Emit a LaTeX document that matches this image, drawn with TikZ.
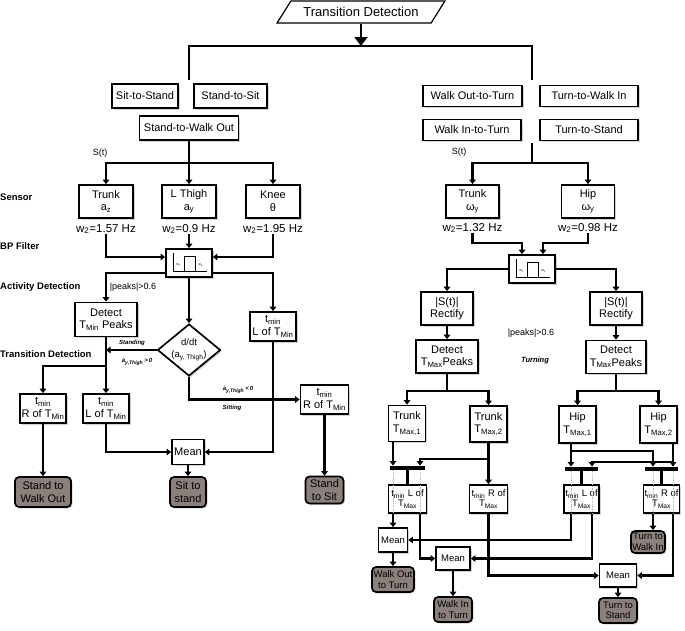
\documentclass[tikz,border=0pt]{standalone}
\usepackage{fontspec}
\setmainfont{Liberation Sans}
\usetikzlibrary{arrows.meta,positioning,calc,shapes.geometric,shadows}
\definecolor{endgray}{RGB}{140,128,124}
\definecolor{dotgray}{RGB}{185,185,185}

\begin{document}
\begin{tikzpicture}[x=1pt, y=-1pt,
    box/.style={draw, line width=1.7pt, fill=white, inner sep=1pt, align=center,
      font=\fontsize{11}{12.5}\selectfont,
      drop shadow={shadow xshift=1.5pt, shadow yshift=-1.5pt, opacity=.35}},
    sm/.style={font=\fontsize{9.5}{10.5}\selectfont},
    sz/.style 2 args={minimum width=#1pt, minimum height=#2pt},
    endbox/.style={box, fill=endgray, rounded corners=4pt},
    hdr/.style={trapezium, trapezium left angle=45, trapezium right angle=135,
      trapezium stretches=true, draw, line width=1.2pt, fill=white, inner sep=1pt,
      minimum width=168pt, minimum height=22pt, font=\fontsize{13}{14}\selectfont},
    dec/.style={diamond, draw, line width=1.7pt, fill=white, aspect=1.2, inner sep=0pt,
      minimum width=63pt, minimum height=52pt, align=center,
      font=\fontsize{9.5}{12}\selectfont,
      drop shadow={shadow xshift=1.5pt, shadow yshift=-1.5pt, opacity=.35}},
    bar/.style={fill=black, inner sep=0pt, minimum height=4.5pt},
    wire/.style={line width=2.6pt},
    arr/.style={wire, -{Triangle[length=4.5pt,width=6.5pt]}},
    bigarr/.style={line width=2.8pt, -{Triangle[length=9pt,width=13pt]}},
    dots/.style={dotgray, line width=.8pt, densely dotted},
    sect/.style={anchor=west, inner sep=0pt, font=\bfseries\fontsize{9.5}{10}\selectfont},
    lab/.style={inner sep=0pt, font=\fontsize{9}{10}\selectfont},
    wlab/.style={inner sep=0pt, font=\fontsize{11.5}{12}\selectfont},
    tiny/.style={inner sep=0pt, font=\bfseries\itshape\fontsize{6}{7}\selectfont},
    bpicon/.pic={
      \draw[line width=.8pt] (-16,-10) -- (-16,8) -- (18,8);
      \draw[line width=.8pt] (-5,8) -- (-5,-7) -- (6,-7) -- (6,8);
      \node[inner sep=0pt, font=\fontsize{3.5}{4}\selectfont] (-w1) at (-10.5,2) {w\textsubscript{1}};
      \node[inner sep=0pt, font=\fontsize{3.5}{4}\selectfont] (-w2) at (11.5,2) {w\textsubscript{2}};
    }]
  \useasboundingbox (0,0) rectangle (685,630);

  % header and split
  \node[hdr] (hdr) at (361,12) {Transition Detection};
  \coordinate (top) at (361,46);
  \coordinate (lft) at (189,80);
  \coordinate (rgt) at (532,80);
  \draw[bigarr] (hdr) -- (top);
  \draw[wire] (lft) |- (top) -| (rgt);

  % transition groups
  \foreach \nm/\x/\y/\w/\h/\txt in {
    sts/145/96/66/24/Sit-to-Stand,
    sit/230.5/96/73/24/Stand-to-Sit,
    swo/189/128/99/24/Stand-to-Walk Out,
    wot/472.5/96/99/21/Walk Out-to-Turn,
    twi/589/96/98/21/Turn-to-Walk In,
    wit/472/130/98/21/Walk In-to-Turn,
    tts/589/130/98/21/Turn-to-Stand}{
    \node[box, sz={\w}{\h}] (\nm) at (\x,\y) {\txt};
  }

  % row labels
  \foreach \y/\txt in {197/Sensor, 246/BP Filter, 287/Activity Detection, 354/Transition Detection}
    \node[sect] (sec\y) at (0,\y) {\txt};

  % ---------- left branch ----------
  \node[lab] (stL) at (100,153) {S(t)};
  \coordinate (lsplit) at (189,163);
  \foreach \nm/\x/\txt/\wl/\wv in {
    trkL/106/{Trunk\\a\textsubscript{z}}/wa/1.57,
    thg/189/{L Thigh\\a\textsubscript{y}}/wb/0.9,
    kne/273/{Knee\\θ}/wc/1.95}{
    \node[box, sz={54}{33}] (\nm) at (\x,201.5) {\txt};
    \node[wlab] (\wl) at (\x,229) {w\textsubscript{2}=\wv{} Hz};
  }
  \node[box, sz={46}{28}] (bpL) at (189,263) {};
  \pic (icL) at (bpL.center) {bpicon};

  \node[box, sz={62}{34}] (dtL) at (106,319.5) {Detect\\T\textsubscript{Min} Peaks};
  \node[dec] (dia) at (189,350) {d/dt\\(a\textsubscript{y, Thigh})};
  \node[box, sz={46}{29}] (tlR) at (273,326.5) {t\textsubscript{min}\\L of T\textsubscript{Min}};
  \node[box, sz={46}{29}] (trL) at (43,408.5) {t\textsubscript{min}\\R of T\textsubscript{Min}};
  \node[box, sz={46}{29}] (tlM) at (106,408.5) {t\textsubscript{min}\\L of T\textsubscript{Min}};
  \node[box, sz={48}{29}] (trR) at (324.5,399.5) {t\textsubscript{min}\\R of T\textsubscript{Min}};
  \node[box, sz={32}{25}] (mean) at (188,452) {Mean};

  \node[endbox, sz={56}{30}] (eL) at (43,492) {Stand to\\Walk Out};
  \node[endbox, sz={36}{30}] (eM) at (188,492) {Sit to\\stand};
  \node[endbox, sz={38}{27}] (eR) at (324.5,490) {Stand\\to Sit};

  \node[lab] (pkL) at (133,287) {|peaks|>0.6};
  \node[tiny] (lstand) at (132,343) {Standing};
  \node[tiny] (lpos) at (137,362) {ȧ\textsubscript{y,Thigh}\,>\,0};
  \node[tiny] (lneg) at (238,390) {ȧ\textsubscript{y,Thigh}\,<\,0};
  \node[tiny] (lsit) at (232,408) {Sitting};

  \draw[wire] (swo.south) -- (lsplit);
  \draw[arr] (lsplit) -| (trkL.north);
  \draw[arr] (lsplit) -- (thg.north);
  \draw[arr] (lsplit) -| (kne.north);
  \draw[arr] (wa.south) |- ([yshift=6pt]bpL.west);
  \draw[arr] (wb.south) -- (bpL.north);
  \draw[arr] (wc.south) |- ([yshift=6pt]bpL.east);
  \draw[arr] ([yshift=-10pt]bpL.west) -| (dtL.north);
  \draw[arr] ([yshift=-10pt]bpL.east) -| (tlR.north);
  \draw[arr] (bpL.south) -- (dia.north);

  \coordinate (jl) at (106,350);
  \coordinate (jm) at (106,366);
  \draw[arr] (dia.west) -- (jl);
  \draw[wire] (dtL.south) -- (jm);
  \draw[arr] (jm) -| (trL.north);
  \draw[arr] (jm) -- (tlM.north);
  \draw[arr] (dia.south) |- (trR.west);
  \draw[arr] (tlM.south) |- (mean.west);
  \draw[arr] (tlR.south) |- (mean.east);
  \draw[arr] (trL) -- (eL);
  \draw[arr] (mean) -- (eM);
  \draw[arr] (trR) -- (eR);

  % ---------- right branch ----------
  \node[lab] (stR) at (459,152) {S(t)};
  \coordinate (rtop) at (532,143);
  \coordinate (rsplit) at (532,163);
  \node[box, sz={53}{33}] (trkR) at (472.5,201.5) {Trunk\\ω\textsubscript{y}};
  \node[box, sz={53}{33}] (hip) at (588,201.5) {Hip\\ω\textsubscript{y}};
  \node[wlab] (wd) at (472.5,228) {w\textsubscript{2}=1.32 Hz};
  \node[wlab] (we) at (588,228) {w\textsubscript{2}=0.98 Hz};
  \node[box, sz={46}{28}] (bpR) at (532,269) {};
  \pic (icR) at (bpR.center) {bpicon};

  \node[box, sz={52}{33}] (rcL) at (447,308.5) {|S(t)|\\Rectify};
  \node[box, sz={52}{33}] (rcR) at (616,308.5) {|S(t)|\\Rectify};
  \node[box, sz={62}{33}] (dtR1) at (447,356.5) {Detect\\T\textsubscript{Max}Peaks};
  \node[box, sz={60}{33}] (dtR2) at (616,357) {Detect\\T\textsubscript{Max}Peaks};
  \node[lab] (pkR) at (531,333) {|peaks|>0.6};
  \node[tiny, font=\bfseries\itshape\fontsize{7.5}{8}\selectfont] (trn) at (535,361) {Turning};

  \node[box, sz={37}{36}] (tk1) at (407,423.5) {Trunk\\T\textsubscript{Max,1}};
  \node[box, sz={37}{36}] (tk2) at (488.5,424) {Trunk\\T\textsubscript{Max,2}};
  \node[box, sz={37}{37}] (hp1) at (577.5,424.5) {Hip\\T\textsubscript{Max,1}};
  \node[box, sz={37}{37}] (hp2) at (658.5,424.5) {Hip\\T\textsubscript{Max,2}};

  \node[bar, minimum width=35pt] (barA) at (407.5,468) {};
  \node[bar, minimum width=33pt] (barB) at (581.5,469) {};
  \node[bar, minimum width=33pt] (barC) at (661.5,469) {};

  \node[box, sm, sz={38}{28}] (tlT) at (407.5,499) {t\textsubscript{min} L of\\T\textsubscript{Max}};
  \node[box, sm, sz={38}{28}] (trT) at (488.5,499) {t\textsubscript{min} R of\\T\textsubscript{Max}};
  \node[box, sm, sz={35}{28}] (tlH) at (581.5,499) {t\textsubscript{min} L of\\T\textsubscript{Max}};
  \node[box, sm, sz={35}{28}] (trH) at (661.5,499) {t\textsubscript{min} R of\\T\textsubscript{Max}};

  \node[box, sm, sz={29}{24}] (m1) at (393,540) {Mean};
  \node[box, sm, sz={34}{23}] (m2) at (453,558.5) {Mean};
  \node[box, sm, sz={37}{23}] (m3) at (618,575.5) {Mean};

  \node[endbox, sm, sz={34}{22}] (twE) at (648,542) {Turn to\\Walk In};
  \node[endbox, sm, sz={42}{25}] (woE) at (393,579.5) {Walk Out\\to Turn};
  \node[endbox, sm, sz={38}{25}] (wiE) at (453,609.5) {Walk In\\to Turn};
  \node[endbox, sm, sz={38}{25}] (tsE) at (618,610.5) {Turn to\\Stand};

  \draw[wire] (rtop) -- (rsplit);
  \draw[arr] (rsplit) -| (trkR.north);
  \draw[arr] (rsplit) -| (hip.north);
  \coordinate (ja) at (522,243);
  \coordinate (jb) at (543,243);
  \draw[arr] (wd.south) |- (ja) -- (ja |- bpR.north);
  \draw[arr] (we.south) |- (jb) -- (jb |- bpR.north);
  \draw[arr] (bpR.west) -| (rcL.north);
  \draw[arr] (bpR.east) -| (rcR.north);
  \draw[arr] (rcL) -- (dtR1);
  \draw[arr] (rcR) -- (dtR2);

  \coordinate (jc) at (447,391);
  \coordinate (jd) at (616,391);
  \draw[wire] (dtR1) -- (jc);
  \draw[arr] (jc) -| (tk1.north);
  \draw[arr] (jc) -| (tk2.north);
  \draw[wire] (dtR2) -- (jd);
  \draw[arr] (jd) -| (hp1.north);
  \draw[arr] (jd) -| (hp2.north);

  % pairing bars
  \coordinate (a1) at ([xshift=-14.5pt]barA.north);
  \coordinate (a2) at ([xshift=12.5pt]barA.north);
  \coordinate (b1) at ([xshift=-10.5pt]barB.north);
  \coordinate (b2) at ([xshift=10.5pt]barB.north);
  \coordinate (c1) at ([xshift=-8.5pt]barC.north);
  \coordinate (c2) at ([xshift=11.5pt]barC.north);
  \coordinate (je) at (488.5,459);
  \coordinate (jf) at (571,451);
  \coordinate (jg) at (673,462);
  \draw[arr] (tk1.south -| a1) -- (a1);
  \draw[arr] (je) -| (a2);
  \draw[arr] (tk2.south) -- (trT.north);
  \draw[arr] (hp1.south -| b1) -- (b1);
  \draw[arr] (jf) -| (c1);
  \draw[arr] (hp2.south -| c2) -- (c2);
  \draw[arr] (jg) -| (b2);
  \draw[wire] (barA.south) -- (tlT.north);
  \draw[wire] (barB.south) -- (tlH.north);
  \draw[wire] (barC.south) -- (trH.north);
  \foreach \c/\b/\t in {a1/barA/tlT, a2/barA/tlT, b1/barB/tlH, b2/barB/tlH, c1/barC/trH, c2/barC/trH}
    \draw[dots] (\c |- \b.south) -- (\c |- \t.south);

  % means and results
  \draw[arr] (a1 |- tlT.south) -- (m1.north);
  \draw[arr] (a2 |- tlT.south) |- (m2.west);
  \draw[arr] (trT.south) |- (m3.west);
  \draw[arr] (b1 |- tlH.south) |- (m1.east);
  \draw[arr] (b2 |- tlH.south) |- (m2.east);
  \draw[arr] (c1 |- trH.south) -- (c1 |- twE.north);
  \draw[arr] (c2 |- trH.south) |- (m3.east);
  \draw[arr] (m1) -- (woE);
  \draw[arr] (m2) -- (wiE);
  \draw[arr] (m3) -- (tsE);
\end{tikzpicture}
\end{document}
